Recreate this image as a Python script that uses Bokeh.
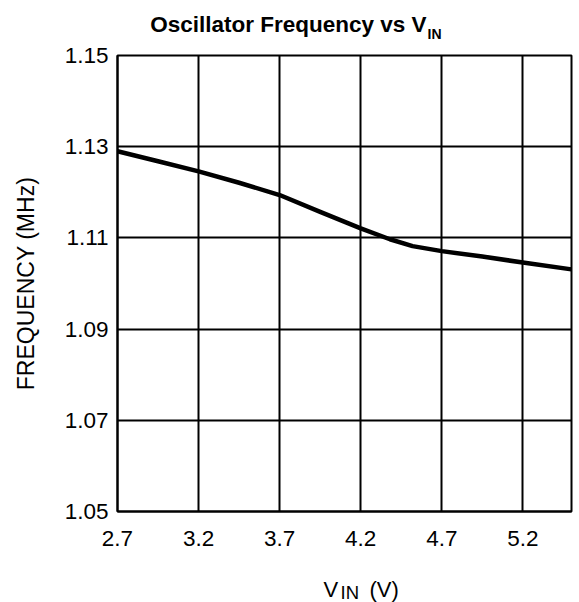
from bokeh.plotting import figure
from bokeh.layouts import column
from bokeh.models import Range1d, FixedTicker, NumeralTickFormatter
from bokeh.core.properties import value
from bokeh.embed import file_html
from bokeh.resources import INLINE

# ---- data ----
vin = [2.7, 2.95, 3.2, 3.45, 3.7, 3.95, 4.2, 4.38, 4.52, 4.7, 4.95, 5.2, 5.5]
freq = [1.1290, 1.1268, 1.1246, 1.1221, 1.1194, 1.1157, 1.1121, 1.1097,
        1.1082, 1.1071, 1.1059, 1.1046, 1.1031]
x_ticks = [2.7, 3.2, 3.7, 4.2, 4.7, 5.2]
y_ticks = [1.05, 1.07, 1.09, 1.11, 1.13, 1.15]
x_lim = (2.7, 5.5)
y_lim = (1.05, 1.15)

title_main = "Oscillator Frequency vs V"
title_sub = "IN"
ylabel = "FREQUENCY (MHz)"
xlabel_main = "V"
xlabel_sub = "IN"
xlabel_unit = "(V)"

FONT = "Liberation Sans"
W = 579
TITLE_H = 40
L, R, T, B = 117, 8, 15, 45
FRAME_H = 456
MAIN_H = T + FRAME_H + B
XLAB_H = 46


def strip_fig(h):
    # the column aligns this strip's frame with the chart frame (L .. W-R),
    # so its x range is expressed in page pixels over that span
    f = figure(width=W, height=h, x_range=Range1d(L, W - R), y_range=Range1d(h, 0),
               x_axis_type=None, y_axis_type=None, output_backend="svg",
               toolbar_location=None, min_border=0,
               min_border_left=L, min_border_right=R)
    f.outline_line_color = None
    f.background_fill_color = "white"
    f.border_fill_color = "white"
    return f


# ---- title strip ----
ft = strip_fig(TITLE_H)
ft.text(x=[426], y=[23.5], text=[title_main], text_align="right",
        text_baseline="alphabetic", text_font=value(FONT),
        text_font_size=value("22.5px"), text_font_style="bold", text_color="black")
ft.text(x=[427], y=[33], text=[title_sub], text_align="left",
        text_baseline="alphabetic", text_font=value(FONT),
        text_font_size=value("14px"), text_font_style="bold", text_color="black")

# ---- main chart ----
p = figure(width=W, height=MAIN_H, x_range=Range1d(*x_lim), y_range=Range1d(*y_lim),
           output_backend="svg", toolbar_location=None, title=None,
           min_border_left=L, min_border_right=R, min_border_top=T,
           min_border_bottom=B)
p.background_fill_color = "white"
p.border_fill_color = "white"
p.outline_line_color = "black"
p.outline_line_width = 2

p.xaxis.ticker = FixedTicker(ticks=x_ticks)
p.yaxis.ticker = FixedTicker(ticks=y_ticks)
p.xaxis.formatter = NumeralTickFormatter(format="0.0")
p.yaxis.formatter = NumeralTickFormatter(format="0.00")
for ax in (p.xaxis, p.yaxis):
    ax.major_tick_out = 0
    ax.major_tick_in = 0
    ax.minor_tick_out = 0
    ax.minor_tick_in = 0
    ax.axis_line_color = "black"
    ax.axis_line_width = 2
    ax.major_label_text_font = FONT
    ax.major_label_text_font_size = "22.5px"
    ax.major_label_text_color = "black"
p.xaxis.major_label_standoff = 19
p.yaxis.major_label_standoff = 9

p.yaxis.axis_label = ylabel
p.yaxis.axis_label_text_font = FONT
p.yaxis.axis_label_text_font_size = "23px"
p.yaxis.axis_label_text_font_style = "normal"
p.yaxis.axis_label_text_color = "black"
p.yaxis.axis_label_standoff = 23

p.grid.grid_line_color = "black"
p.grid.grid_line_width = 2
p.grid.grid_line_alpha = 1.0

p.line(vin, freq, line_width=4.5, line_color="black", line_join="round")

# ---- x label strip ----
fx = strip_fig(XLAB_H)
fx.text(x=[323], y=[33], text=[xlabel_main], text_align="left",
        text_baseline="alphabetic", text_font=value(FONT),
        text_font_size=value("22px"), text_color="black")
fx.text(x=[340], y=[36], text=[xlabel_sub], text_align="left",
        text_baseline="alphabetic", text_font=value(FONT),
        text_font_size=value("18.5px"), text_color="black")
fx.text(x=[369], y=[33], text=[xlabel_unit], text_align="left",
        text_baseline="alphabetic", text_font=value(FONT),
        text_font_size=value("22px"), text_color="black")

layout = column(ft, p, fx, spacing=0)
open("out.html", "w").write(file_html(layout, INLINE))
